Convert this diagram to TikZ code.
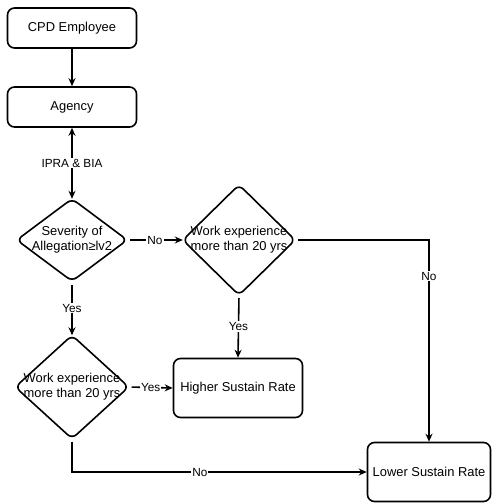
\documentclass[tikz,border=0pt]{standalone}
\usepackage{fontspec}
\setmainfont{Liberation Sans}
\usetikzlibrary{arrows.meta,calc}
\begin{document}
\begin{tikzpicture}[x=1pt,y=-1pt,
  font=\fontsize{12.9}{15}\selectfont,
  box/.style={draw,line width=1.6pt,rounded corners=7pt,inner sep=0pt,align=center},
  diabox/.style={inner sep=0pt,align=center},
  diaedge/.style={line width=1.6pt,rounded corners=6pt},
  conn/.style={line width=1.6pt,-{Stealth[length=8pt,width=7pt]}},
  lbl/.style={fill=white,inner sep=1pt,font=\fontsize{11.8}{13}\selectfont}]
\useasboundingbox[fill=white] (0,0) rectangle (492,503);
\node[box,minimum width=129pt,minimum height=40pt] (cpd) at (72,28) {CPD Employee};
\node[box,minimum width=129pt,minimum height=40pt] (agency) at (72,107) {Agency};
\node[diabox,minimum width=110pt,minimum height=82pt] (d1) at (72,240) {Severity of\\Allegation≥lv2};
\node[diabox,minimum width=112pt,minimum height=110pt] (d3) at (239,240) {Work experience\\more than 20 yrs};
\node[diabox,minimum width=113pt,minimum height=103pt] (d2) at (72,387) {Work experience\\more than 20 yrs};
\node[box,minimum width=129pt,minimum height=59pt] (higher) at (238,388) {Higher Sustain Rate};
\node[box,minimum width=123pt,minimum height=59pt] (lower) at (429,472) {Lower Sustain Rate};
\foreach \d in {d1,d2,d3}{
  \draw[diaedge] ($(\d.north)!0.5!(\d.east)$) -- (\d.east) -- (\d.south) -- (\d.west) -- (\d.north) -- cycle;
}
\draw[conn] (cpd) -- (agency);
\draw[line width=1.6pt,{Stealth[length=8pt,width=7pt]}-{Stealth[length=8pt,width=7pt]}] (agency) -- node[lbl]{IPRA \& BIA} (d1.north);
\draw[conn,shorten <=3pt] (d1.east) -- node[lbl]{No} (d3.west);
\draw[conn,shorten <=4pt] (d1.south) -- node[lbl]{Yes} (d2.north);
\draw[conn,shorten <=3pt] (d2.east) -- node[lbl]{Yes} (higher.west);
\draw[conn,shorten <=3pt] (d3.south) -- node[lbl]{Yes} (higher.north);
\draw[conn,shorten <=3pt] (d3.east) -| node[lbl,pos=0.59]{No} (lower.north);
\draw[conn,shorten <=3pt] (d2.south) |- node[lbl,pos=0.717]{No} (lower.west);
\end{tikzpicture}
\end{document}
